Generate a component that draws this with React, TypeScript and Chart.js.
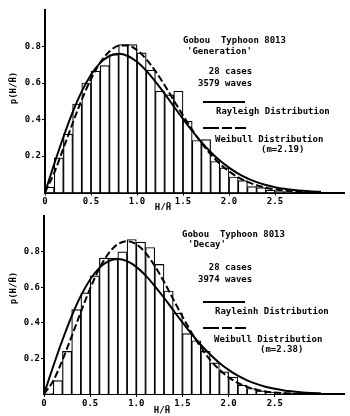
import React, { useEffect, useRef } from 'react';
import { Chart, registerables } from 'chart.js';

Chart.register(...registerables);

// ---------- data ----------
const binCenters = [
  0.05, 0.15, 0.25, 0.35, 0.45, 0.55, 0.65, 0.75, 0.85, 0.95,
  1.05, 1.15, 1.25, 1.35, 1.45, 1.55, 1.65, 1.75, 1.85, 1.95,
  2.05, 2.15, 2.25, 2.35, 2.45, 2.55, 2.65,
];

const generationHist = [
  0.03, 0.19, 0.32, 0.485, 0.60, 0.665, 0.695, 0.755, 0.81, 0.81,
  0.765, 0.67, 0.555, 0.535, 0.555, 0.39, 0.285, 0.29, 0.17, 0.135,
  0.085, 0.065, 0.032, 0.027, 0.013, 0.008, 0.004,
];

const decayHist = [
  0.005, 0.075, 0.24, 0.475, 0.57, 0.665, 0.765, 0.765, 0.80, 0.87,
  0.855, 0.825, 0.73, 0.58, 0.455, 0.34, 0.30, 0.24, 0.175, 0.125,
  0.095, 0.05, 0.031, 0.018, 0.011, 0.006, 0.003,
];

const curveX = [
  0, 0.1, 0.2, 0.3, 0.4, 0.5, 0.6, 0.7, 0.8, 0.9,
  1.0, 1.1, 1.2, 1.3, 1.4, 1.5, 1.6, 1.7, 1.8, 1.9,
  2.0, 2.1, 2.2, 2.3, 2.4, 2.5, 2.6, 2.7, 2.8, 2.9, 3.0,
];

const rayleighCurve = [
  0, 0.156, 0.304, 0.439, 0.554, 0.645, 0.710, 0.748, 0.760, 0.748,
  0.716, 0.668, 0.608, 0.542, 0.472, 0.403, 0.337, 0.276, 0.222, 0.175,
  0.136, 0.103, 0.077, 0.057, 0.041, 0.029, 0.020, 0.014, 0.009, 0.006, 0.004,
];

const weibullGeneration = [
  0, 0.108, 0.242, 0.379, 0.509, 0.622, 0.712, 0.773, 0.804, 0.806,
  0.780, 0.731, 0.665, 0.588, 0.505, 0.422, 0.344, 0.272, 0.210, 0.158,
  0.116, 0.083, 0.058, 0.040, 0.026, 0.017, 0.011, 0.006, 0.004, 0.002, 0.001,
];

const weibullDecay = [
  0, 0.074, 0.191, 0.325, 0.463, 0.594, 0.707, 0.792, 0.844, 0.861,
  0.843, 0.795, 0.721, 0.632, 0.534, 0.436, 0.344, 0.262, 0.192, 0.137,
  0.094, 0.062, 0.040, 0.024, 0.014, 0.008, 0.005, 0.002, 0.001, 0.001, 0.0,
];

const xTickValues = [0, 0.5, 1.0, 1.5, 2.0, 2.5];
const xTickLabels = ['0', '0.5', '1.0', '1.5', '2.0', '2.5'];
const yTickValues = [0.2, 0.4, 0.6, 0.8];
const yTickLabels = ['0.2', '0.4', '0.6', '0.8'];

const xAxisTitle = 'H/H\u0304';
const yAxisTitle = 'p(H/H\u0304)';

const generationTexts = [
  'Gobou  Typhoon 8013',
  "'Generation'",
  '  28 cases',
  '3579 waves',
  'Rayleigh Distribution',
  'Weibull Distribution',
  '(m=2.19)',
];

const decayTexts = [
  'Gobou  Typhoon 8013',
  "'Decay'",
  '  28 cases',
  '3974 waves',
  'Rayleinh Distribution',
  'Weibull Distribution',
  '(m=2.38)',
];

// ---------- layout ----------
type PanelLayout = {
  top: number;
  height: number;
  padTop: number;
  yWidth: number;
  xHeight: number;
  textPos: [number, number][];
  solidY: number;
  dashY: number;
  xTitle: [number, number];
  yTitle: [number, number];
};

const FONT = '"DejaVu Sans Mono", "Liberation Mono", monospace';

const topLayout: PanelLayout = {
  top: 0,
  height: 210,
  padTop: 10,
  yWidth: 45,
  xHeight: 17.5,
  textPos: [
    [183, 41],
    [187, 52],
    [198, 72],
    [198, 84],
    [216, 112],
    [215, 140],
    [261, 150],
  ],
  solidY: 102,
  dashY: 128,
  xTitle: [163, 208],
  yTitle: [14, 88],
};

const bottomLayout: PanelLayout = {
  top: 210,
  height: 206,
  padTop: 1,
  yWidth: 44,
  xHeight: 22,
  textPos: [
    [182, 25],
    [188, 35],
    [198, 58],
    [198, 70],
    [215, 102],
    [214, 130],
    [260, 140],
  ],
  solidY: 92,
  dashY: 118,
  xTitle: [162, 201],
  yTitle: [14, 78],
};

function labelFor(v: number, values: number[], labels: string[]) {
  for (let i = 0; i < values.length; i++) {
    if (Math.abs(values[i] - v) < 1e-6) return labels[i];
  }
  return null;
}

function Panel({
  hist,
  weibull,
  texts,
  layout,
}: {
  hist: number[];
  weibull: number[];
  texts: string[];
  layout: PanelLayout;
}) {
  const ref = useRef<HTMLCanvasElement | null>(null);

  useEffect(() => {
    if (!ref.current) return;
    const annot = {
      id: 'annot',
      afterDraw(chart: any) {
        const ctx = chart.ctx as CanvasRenderingContext2D;
        ctx.save();
        ctx.fillStyle = '#000';
        ctx.strokeStyle = '#000';
        ctx.font = `bold 9px ${FONT}`;
        ctx.textBaseline = 'middle';
        ctx.textAlign = 'left';
        texts.forEach((t, i) => {
          const [x, y] = layout.textPos[i];
          ctx.fillText(t, x, y);
        });
        ctx.lineWidth = 2;
        ctx.setLineDash([]);
        ctx.beginPath();
        ctx.moveTo(203, layout.solidY);
        ctx.lineTo(245, layout.solidY);
        ctx.stroke();
        ctx.setLineDash([16, 3, 10, 3]);
        ctx.beginPath();
        ctx.moveTo(203, layout.dashY);
        ctx.lineTo(246, layout.dashY);
        ctx.stroke();
        ctx.setLineDash([]);
        ctx.textAlign = 'center';
        ctx.fillText(xAxisTitle, layout.xTitle[0], layout.xTitle[1]);
        ctx.translate(layout.yTitle[0], layout.yTitle[1]);
        ctx.rotate(-Math.PI / 2);
        ctx.fillText(yAxisTitle, 0, 0);
        ctx.restore();
      },
    };

    const tickFont = { family: FONT, size: 9, weight: 'bold' as const };

    const chart = new Chart(ref.current, {
      type: 'bar',
      data: {
        datasets: [
          {
            type: 'line',
            data: curveX.map((x, i) => ({ x, y: rayleighCurve[i] })),
            borderColor: '#000',
            borderWidth: 2,
            pointRadius: 0,
            cubicInterpolationMode: 'monotone',
            fill: false,
            order: 0,
          } as any,
          {
            type: 'line',
            data: curveX.map((x, i) => ({ x, y: weibull[i] })),
            borderColor: '#000',
            borderWidth: 2,
            borderDash: [7, 3],
            pointRadius: 0,
            cubicInterpolationMode: 'monotone',
            fill: false,
            order: 0,
          } as any,
          {
            type: 'bar',
            data: binCenters.map((x, i) => ({ x, y: hist[i] })),
            backgroundColor: '#fff',
            borderColor: '#000',
            borderWidth: 1.2,
            barPercentage: 1,
            categoryPercentage: 1,
            order: 1,
          } as any,
        ],
      },
      options: {
        responsive: false,
        animation: false,
        devicePixelRatio: 1,
        layout: { padding: { top: layout.padTop, right: 6, left: 0, bottom: 0 } },
        plugins: {
          legend: { display: false },
          tooltip: { enabled: false },
        },
        scales: {
          x: {
            type: 'linear',
            min: 0,
            max: 3.25,
            offset: false,
            grid: {
              offset: false,
              drawOnChartArea: false,
              drawTicks: true,
              tickLength: 3,
              color: '#000',
            },
            border: { display: true, color: '#000', width: 2 },
            ticks: {
              stepSize: 0.5,
              autoSkip: false,
              maxRotation: 0,
              padding: 1,
              color: '#000',
              font: tickFont,
              callback: (v: any) => labelFor(Number(v), xTickValues, xTickLabels),
            },
            afterFit: (s: any) => {
              s.height = layout.xHeight;
            },
          },
          y: {
            type: 'linear',
            min: 0,
            max: 1,
            grid: {
              drawOnChartArea: false,
              drawTicks: true,
              tickLength: 3,
              color: '#000',
            },
            border: { display: true, color: '#000', width: 2 },
            ticks: {
              stepSize: 0.2,
              padding: 1,
              color: '#000',
              font: tickFont,
              callback: (v: any) => labelFor(Number(v), yTickValues, yTickLabels),
            },
            afterFit: (s: any) => {
              s.width = layout.yWidth;
            },
          },
        },
      } as any,
      plugins: [annot],
    });
    return () => chart.destroy();
  }, [hist, weibull, texts, layout]);

  return (
    <canvas
      ref={ref}
      width={350}
      height={layout.height}
      style={{
        position: 'absolute',
        left: 0,
        top: layout.top,
        width: 350,
        height: layout.height,
      }}
    />
  );
}

export default function App() {
  return (
    <div
      style={{
        position: 'absolute',
        left: 0,
        top: 0,
        width: 350,
        height: 416,
        background: '#fff',
        overflow: 'hidden',
      }}
    >
      <Panel hist={generationHist} weibull={weibullGeneration} texts={generationTexts} layout={topLayout} />
      <Panel hist={decayHist} weibull={weibullDecay} texts={decayTexts} layout={bottomLayout} />
    </div>
  );
}
